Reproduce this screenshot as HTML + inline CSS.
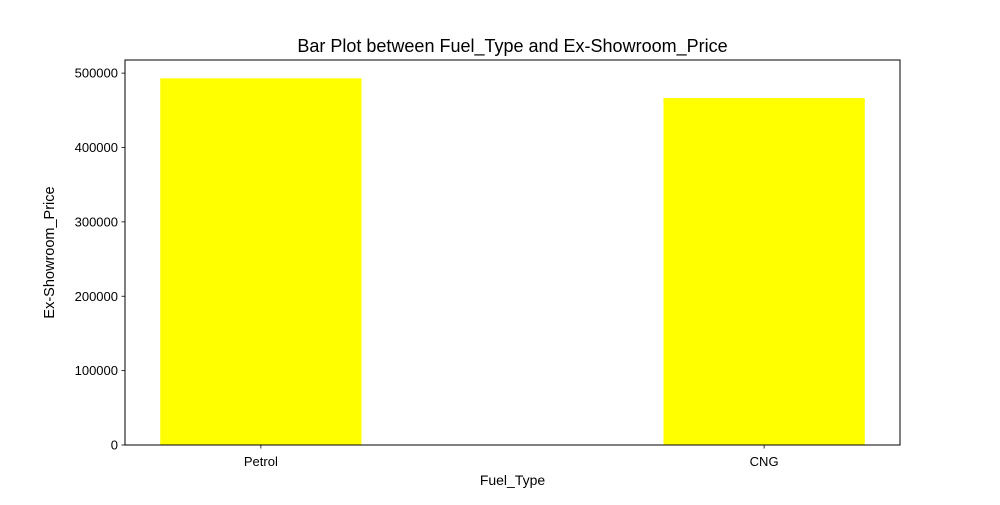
<!DOCTYPE html>
<html><head><meta charset="utf-8"><style>
body{margin:0;background:#fff;font-family:"Liberation Sans","DejaVu Sans",sans-serif}
</style></head><body>
<svg id="chart" width="1000" height="500" xmlns="http://www.w3.org/2000/svg"></svg>
<script>
const categories=["Petrol","CNG"];
const values=[493000,466500];
const yTicks=[0,100000,200000,300000,400000,500000];
const svg=document.getElementById('chart');
const NS='http://www.w3.org/2000/svg';
const L=125,R=900,T=60,B=445;
const xmin=-0.27,xmax=1.27;
const ymax=Math.max(...values)*1.05;
const xs=v=>L+(v-xmin)/(xmax-xmin)*(R-L);
const ys=v=>B-v/ymax*(B-T);
function mk(tag,attrs,txt){const e=document.createElementNS(NS,tag);for(const k in attrs)e.setAttribute(k,attrs[k]);if(txt!==undefined)e.textContent=txt;svg.appendChild(e);return e;}
categories.forEach((c,i)=>{
  const x0=xs(i-0.2),x1=xs(i+0.2);
  const b=mk('rect',{x:x0,y:ys(values[i]),width:x1-x0,height:B-ys(values[i]),fill:'#ffff00'});
  
  
  const t=mk('line',{x1:xs(i),x2:xs(i),y1:B,y2:B+3.5,stroke:'#000','stroke-width':0.8});
  
  
  const l=mk('text',{x:xs(i),y:B+21,'text-anchor':'middle','font-size':13},c);
  
  
});
yTicks.forEach(v=>{
  const t=mk('line',{x1:L-3.5,x2:L,y1:ys(v),y2:ys(v),stroke:'#000','stroke-width':0.8});
  
  
  const l=mk('text',{x:L-7,y:ys(v)+4.5,'text-anchor':'end','font-size':13},String(v));
  
  
});
const f=mk('rect',{x:L,y:T,width:R-L,height:B-T,fill:'none',stroke:'#000','stroke-width':1});


const ti=mk('text',{x:(L+R)/2,y:T-8,'text-anchor':'middle','font-size':18},'Bar Plot between Fuel_Type and Ex-Showroom_Price');


const xt=mk('text',{x:(L+R)/2,y:485,'text-anchor':'middle','font-size':14},'Fuel_Type');


const yt=mk('text',{x:54,y:(T+B)/2,'text-anchor':'middle','font-size':14.5,transform:'rotate(-90 54 '+((T+B)/2)+')'},'Ex-Showroom_Price');


</script>
</body></html>
